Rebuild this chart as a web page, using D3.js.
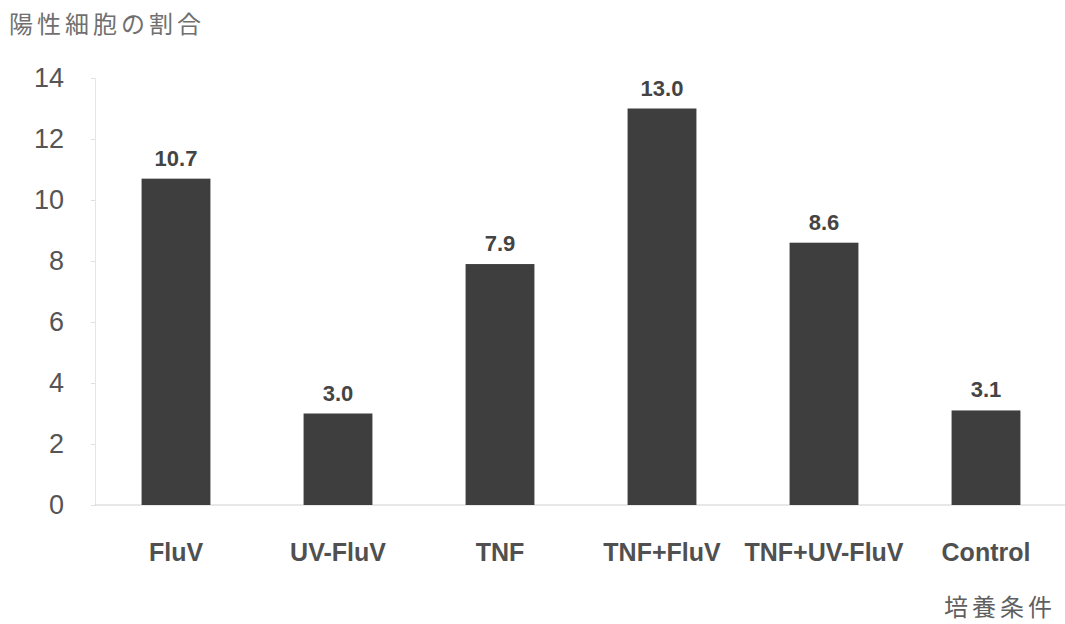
<!DOCTYPE html>
<html>
<head>
<meta charset="utf-8">
<script src="https://cdn.jsdelivr.net/npm/d3@7"></script>
<style>
  html, body { margin: 0; padding: 0; background: #fff; }
  svg { display: block; }
</style>
</head>
<body>
<svg id="chart" width="1065" height="624"></svg>
<script>
// Conditions and the share of positive cells under each
const categories = ["FluV", "UV-FluV", "TNF", "TNF+FluV", "TNF+UV-FluV", "Control"];
const values = [10.7, 3.0, 7.9, 13.0, 8.6, 3.1];
const yTicks = [0, 2, 4, 6, 8, 10, 12, 14];
const yTitle = "陽性細胞の割合";
const xTitle = "培養条件";

const svg = d3.select("#chart");
const plot = { left: 95, right: 1067, top: 78, bottom: 505 };

const x = d3.scaleBand().domain(categories).range([plot.left, plot.right]).paddingInner(0.575).paddingOuter(0.2875);
const y = d3.scaleLinear().domain([0, 14]).range([plot.bottom, plot.top]);

const latin = "'Liberation Sans', Arial, Helvetica, sans-serif";
const cjk = "'Noto Sans CJK JP', sans-serif";

// y axis: faint line and ticks
const yAxis = svg.append("g")
  .attr("transform", `translate(${plot.left},0)`)
  .call(d3.axisLeft(y).tickValues(yTicks).tickSize(4).tickPadding(27));
yAxis.select(".domain").attr("stroke", "#e6e6e6");
yAxis.selectAll(".tick line").attr("stroke", "#e0e0e0");
yAxis.selectAll(".tick text")
  .attr("font-family", latin)
  .attr("font-size", 27)
  .attr("fill", "#555");

// baseline
svg.append("line")
  .attr("x1", plot.left).attr("x2", 1065)
  .attr("y1", y(0)).attr("y2", y(0))
  .attr("stroke", "#d2d2d2").attr("stroke-width", 1.2);

// bars
svg.append("g").selectAll("rect")
  .data(values)
  .join("rect")
  .attr("x", (d, i) => x(categories[i]))
  .attr("width", x.bandwidth())
  .attr("y", d => y(d))
  .attr("height", d => y(0) - y(d))
  .attr("fill", "#3e3e3e");

// value labels
svg.append("g").selectAll("text")
  .data(values)
  .join("text")
  .attr("x", (d, i) => x(categories[i]) + x.bandwidth() / 2)
  .attr("y", d => y(d) - 13)
  .attr("text-anchor", "middle")
  .attr("font-family", latin)
  .attr("font-weight", "bold")
  .attr("font-size", 22)
  .attr("fill", "#444")
  .text(d => d.toFixed(1));

// category labels
const xAxis = svg.append("g")
  .attr("transform", `translate(0,${plot.bottom})`)
  .call(d3.axisBottom(x).tickSize(0).tickPadding(38));
xAxis.select(".domain").remove();
xAxis.selectAll(".tick text")
  .attr("font-family", latin)
  .attr("font-weight", "bold")
  .attr("font-size", 25)
  .attr("fill", "#505050");

// axis titles
svg.append("text")
  .attr("x", 9).attr("y", 33)
  .attr("font-family", cjk)
  .attr("font-size", 24)
  .attr("letter-spacing", 4)
  .attr("fill", "#707070")
  .text(yTitle);

svg.append("text")
  .attr("x", 944).attr("y", 616)
  .attr("font-family", cjk)
  .attr("font-size", 24)
  .attr("letter-spacing", 4)
  .attr("fill", "#606060")
  .text(xTitle);
</script>
</body>
</html>
